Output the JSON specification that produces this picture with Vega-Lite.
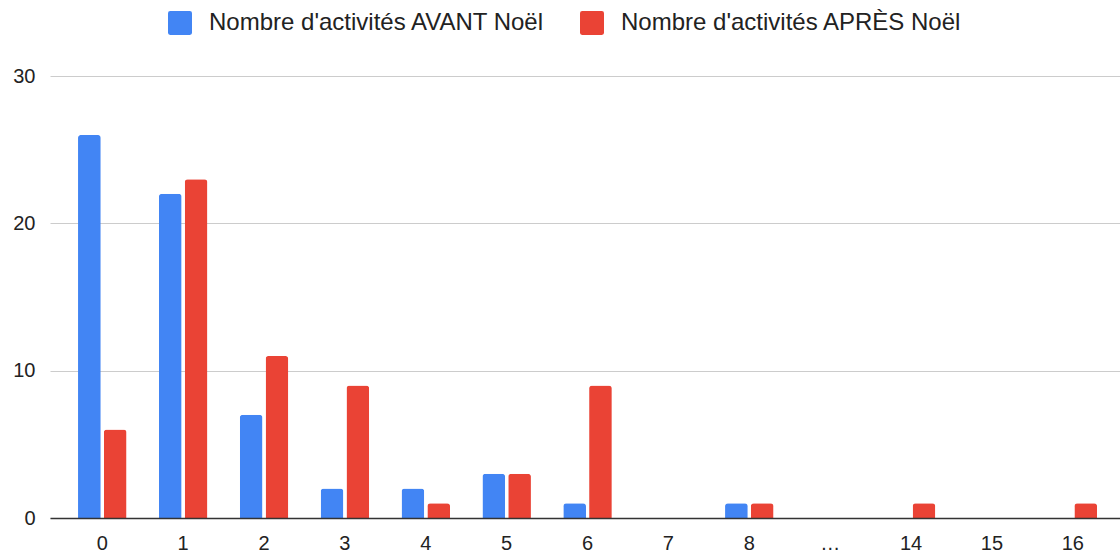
{
  "$schema": "https://vega.github.io/schema/vega-lite/v6.json",
  "width": 1070,
  "height": 442,
  "autosize": {"type": "none"},
  "padding": {"left": 50, "top": 76, "right": 0, "bottom": 36},
  "background": "white",
  "config": {
    "view": {"stroke": null},
    "font": "Liberation Sans"
  },
  "data": {
    "values": [
      {"cat": "0", "serie": "Nombre d'activités AVANT Noël", "n": 26},
      {"cat": "1", "serie": "Nombre d'activités AVANT Noël", "n": 22},
      {"cat": "2", "serie": "Nombre d'activités AVANT Noël", "n": 7},
      {"cat": "3", "serie": "Nombre d'activités AVANT Noël", "n": 2},
      {"cat": "4", "serie": "Nombre d'activités AVANT Noël", "n": 2},
      {"cat": "5", "serie": "Nombre d'activités AVANT Noël", "n": 3},
      {"cat": "6", "serie": "Nombre d'activités AVANT Noël", "n": 1},
      {"cat": "7", "serie": "Nombre d'activités AVANT Noël", "n": 0},
      {"cat": "8", "serie": "Nombre d'activités AVANT Noël", "n": 1},
      {"cat": "…", "serie": "Nombre d'activités AVANT Noël", "n": 0},
      {"cat": "14", "serie": "Nombre d'activités AVANT Noël", "n": 0},
      {"cat": "15", "serie": "Nombre d'activités AVANT Noël", "n": 0},
      {"cat": "16", "serie": "Nombre d'activités AVANT Noël", "n": 0},
      {"cat": "0", "serie": "Nombre d'activités APRÈS Noël", "n": 6},
      {"cat": "1", "serie": "Nombre d'activités APRÈS Noël", "n": 23},
      {"cat": "2", "serie": "Nombre d'activités APRÈS Noël", "n": 11},
      {"cat": "3", "serie": "Nombre d'activités APRÈS Noël", "n": 9},
      {"cat": "4", "serie": "Nombre d'activités APRÈS Noël", "n": 1},
      {"cat": "5", "serie": "Nombre d'activités APRÈS Noël", "n": 3},
      {"cat": "6", "serie": "Nombre d'activités APRÈS Noël", "n": 9},
      {"cat": "7", "serie": "Nombre d'activités APRÈS Noël", "n": 0},
      {"cat": "8", "serie": "Nombre d'activités APRÈS Noël", "n": 1},
      {"cat": "…", "serie": "Nombre d'activités APRÈS Noël", "n": 0},
      {"cat": "14", "serie": "Nombre d'activités APRÈS Noël", "n": 1},
      {"cat": "15", "serie": "Nombre d'activités APRÈS Noël", "n": 0},
      {"cat": "16", "serie": "Nombre d'activités APRÈS Noël", "n": 1}
    ]
  },
  "mark": {"type": "bar", "cornerRadiusTopLeft": 3, "cornerRadiusTopRight": 3},
  "encoding": {
    "x": {
      "field": "cat",
      "type": "nominal",
      "title": null,
      "scale": {"domain": ["0","1","2","3","4","5","6","7","8","…","14","15","16"], "paddingInner": 0.4, "paddingOuter": 0.315, "align": 0.55},
      "axis": {"labelAngle": 0, "ticks": false, "tickSize": 0, "labelPadding": 15, "labelFontSize": 20, "labelColor": "#222222", "labelFont": "Liberation Sans", "domainColor": "#333333", "domainWidth": 1.5, "zindex": 1}
    },
    "xOffset": {
      "field": "serie",
      "type": "nominal",
      "scale": {"domain": ["Nombre d'activités AVANT Noël", "Nombre d'activités APRÈS Noël"], "paddingInner": 0.12, "paddingOuter": 0}
    },
    "y": {
      "field": "n",
      "type": "quantitative",
      "title": null,
      "scale": {"domain": [0, 30], "nice": false},
      "axis": {"values": [0, 10, 20, 30], "grid": true, "gridColor": "#cccccc", "gridWidth": 1, "domain": false, "ticks": false, "labelPadding": 15, "labelFontSize": 20, "labelColor": "#222222", "labelFont": "Liberation Sans"}
    },
    "color": {
      "field": "serie",
      "type": "nominal",
      "scale": {"domain": ["Nombre d'activités AVANT Noël", "Nombre d'activités APRÈS Noël"], "range": ["#4285F4", "#EA4335"]},
      "legend": {
        "title": null,
        "orient": "none",
        "legendX": 118,
        "legendY": -65,
        "direction": "horizontal",
        "symbolType": "M-1,-0.82Q-1,-1,-0.82,-1L0.82,-1Q1,-1,1,-0.82L1,0.82Q1,1,0.82,1L-0.82,1Q-1,1,-1,0.82Z",
        "symbolSize": 576,
        "symbolStrokeWidth": 0,
        "symbolOpacity": 1,
        "labelFontSize": 24,
        "labelFont": "Liberation Sans",
        "labelColor": "#222222",
        "labelLimit": 0,
        "labelOffset": 17,
        "columnPadding": 35
      }
    }
  }
}
